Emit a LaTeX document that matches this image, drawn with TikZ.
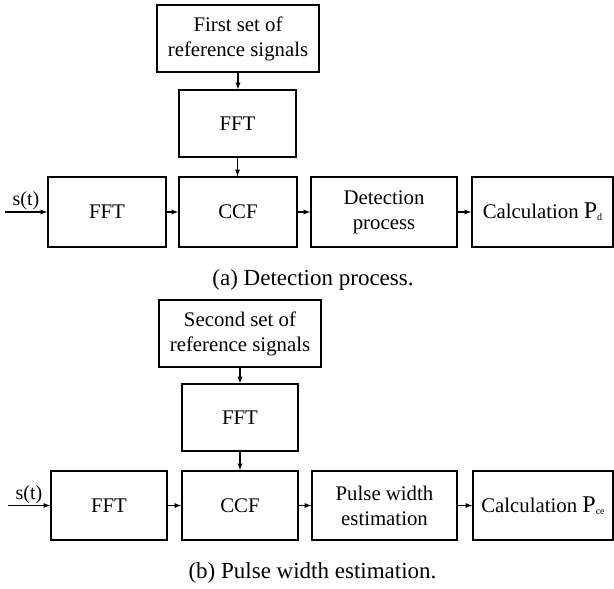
\documentclass[tikz,border=0pt]{standalone}
\usepackage{fontspec}
\setmainfont{Liberation Serif}
\usepackage{tikz}
\usetikzlibrary{arrows}

\tikzset{
  blk/.style={draw, line width=1.6pt, minimum height=67pt, align=center, inner sep=0pt, font=\fontsize{20.8}{25}\selectfont},
  lnk/.style={-latex, line width=1.3pt},
  captxt/.style={font=\fontsize{23}{26}\selectfont},
}
\newcommand{\calcP}[1]{Calculation {\fontsize{24}{25}\selectfont P}\raisebox{-2pt}{\fontsize{10}{10}\selectfont #1}}

\begin{document}
\begin{tikzpicture}[x=1pt,y=-1pt]
\useasboundingbox (0,0) rectangle (614,589);

\node[blk, minimum width=162pt] (refa) at (238,38.5) {First set of\\reference signals};
\node[blk, minimum width=117pt] (ffta) at (237.5,123.5) {FFT};
\node[blk, minimum width=118pt, minimum height=70pt] (fft1) at (107,212) {FFT};
\node[blk, minimum width=118pt, minimum height=70pt] (ccf1) at (238,212) {CCF};
\node[blk, minimum width=146pt, minimum height=70pt] (det) at (384,212) {Detection\\process};
\node[blk, minimum width=141pt, minimum height=70pt] (calc1) at (542.5,212) {\calcP{d}};
\coordinate (sa) at (5,212);
\node[font=\fontsize{20}{22}\selectfont] (sta) at (26,201) {s(t)};
\node[captxt] (capa) at (313,280) {(a) Detection process.};

\draw[lnk] (refa.south) -- (refa.south |- ffta.north);
\draw[lnk] (ffta.south) -- (ffta.south |- ccf1.north);
\draw[lnk] (sa) -- (fft1.west);
\draw[lnk] (fft1) -- (ccf1);
\draw[lnk] (ccf1) -- (det);
\draw[lnk] (det) -- (calc1);

\node[blk, minimum width=162pt] (refb) at (240,333.5) {Second set of\\reference signals};
\node[blk, minimum width=116pt] (fftb) at (240,417.5) {FFT};
\node[blk, minimum width=116pt, minimum height=69pt] (fft2) at (109,505.5) {FFT};
\node[blk, minimum width=116pt, minimum height=69pt] (ccf2) at (240,505.5) {CCF};
\node[blk, minimum width=145pt, minimum height=69pt] (pwe) at (384.5,505.5) {Pulse width\\estimation};
\node[blk, minimum width=140pt, minimum height=69pt] (calc2) at (543,505.5) {\calcP{ce}};
\coordinate (sb) at (8,505.5);
\node[font=\fontsize{20}{22}\selectfont] (stb) at (29,494.5) {s(t)};
\node[captxt] (capb) at (312.5,573) {(b) Pulse width estimation.};

\draw[lnk] (refb.south) -- (refb.south |- fftb.north);
\draw[lnk] (fftb.south) -- (fftb.south |- ccf2.north);
\draw[lnk] (sb) -- (fft2.west);
\draw[lnk] (fft2) -- (ccf2);
\draw[lnk] (ccf2) -- (pwe);
\draw[lnk] (pwe) -- (calc2);
\end{tikzpicture}
\end{document}
